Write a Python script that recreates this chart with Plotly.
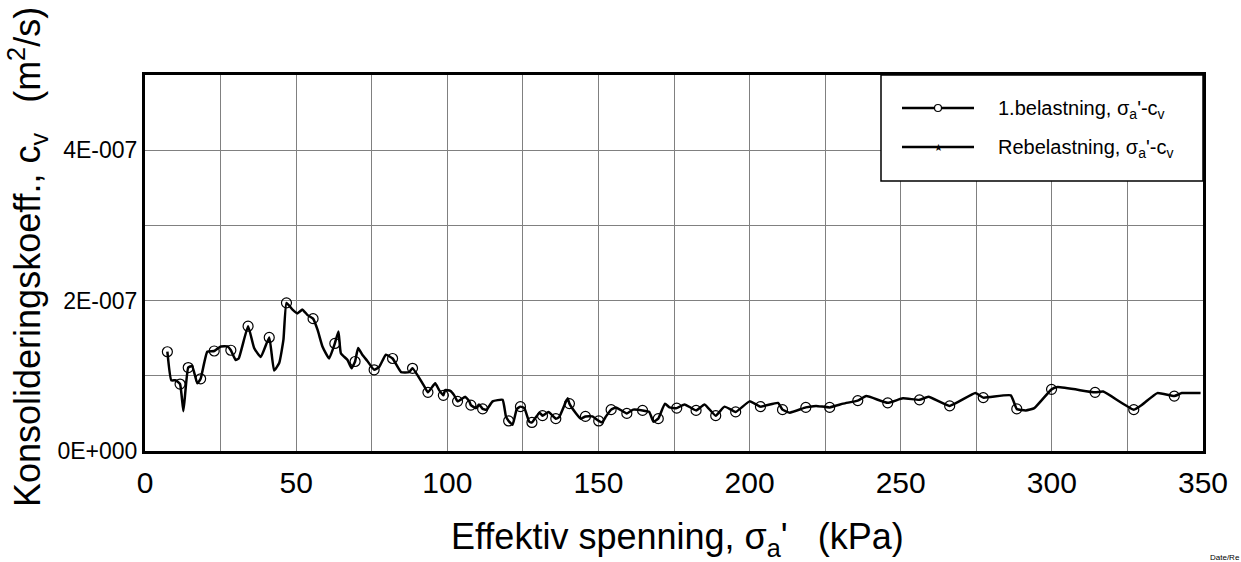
import numpy as np
import plotly.graph_objects as go

# Effective stress (kPa), consolidation coefficient (units of 1E-7 m2/s), marker flag
stress = [7.4, 8.7, 10.2, 11.6, 12.7, 14.3, 15.6, 17.3, 18.4, 20.6, 22.9, 25.1, 27.3, 28.4, 30.0, 31.0,
          34.1, 36.1, 38.3, 41.1, 42.7, 44.4, 45.8, 46.8, 48.8, 50.4, 52.1, 53.7, 55.6, 57.1, 58.7,
          60.9, 62.8, 64.0, 64.8, 67.0, 68.3, 69.5, 70.5, 71.9, 73.5, 75.8, 77.5, 79.7, 81.9, 84.7,
          87.4, 88.5, 92.4, 93.6, 96.0, 97.3, 98.7, 99.3, 101.0, 102.3, 103.4, 106.0, 107.3, 107.8,
          109.5, 110.5, 111.7, 113.0, 115.0, 118.3, 119.4, 120.3, 121.6, 123.0, 124.2, 125.5, 127.1,
          128.0, 130.5, 131.5, 133.5, 135.9, 137.0, 139.8, 140.4, 142.6, 144.2, 145.7, 148.0, 150.1,
          151.2, 152.5, 154.2, 155.8, 159.4, 161.5, 164.6, 166.8, 168.2, 169.8, 172.0, 173.5, 175.9,
          178.5, 182.3, 185.1, 188.8, 191.7, 195.4, 200.0, 203.6, 209.4, 210.9, 213.3, 218.6, 222.0,
          226.5, 231.0, 235.8, 238.6, 245.7, 250.7, 256.2, 259.2, 266.2, 274.7, 277.3, 286.4, 288.4,
          291.4, 294.2, 299.9, 301.9, 314.3, 317.0, 327.1, 330.0, 334.9, 340.5, 343.0, 349.2]
cv_e7 = [1.32, 0.94, 0.94, 0.89, 0.53, 1.11, 1.13, 0.90, 0.96, 1.32, 1.33, 1.39, 1.39, 1.34, 1.21, 1.23,
         1.66, 1.37, 1.25, 1.51, 1.07, 1.17, 1.48, 1.97, 1.88, 1.83, 1.88, 1.81, 1.76, 1.61, 1.39,
         1.23, 1.43, 1.59, 1.30, 1.21, 1.10, 1.19, 1.37, 1.28, 1.20, 1.08, 1.12, 1.28, 1.23, 1.05,
         1.05, 1.10, 0.86, 0.78, 0.90, 0.81, 0.74, 0.81, 0.80, 0.74, 0.66, 0.72, 0.66, 0.61,
         0.57, 0.62, 0.56, 0.55, 0.66, 0.68, 0.46, 0.40, 0.35, 0.56, 0.59, 0.57, 0.39,
         0.38, 0.51, 0.47, 0.52, 0.43, 0.45, 0.70, 0.63, 0.50, 0.43, 0.46, 0.46, 0.40,
         0.38, 0.46, 0.55, 0.58, 0.50, 0.55, 0.54, 0.52, 0.39, 0.43, 0.63, 0.58, 0.57,
         0.62, 0.54, 0.62, 0.47, 0.59, 0.52, 0.66, 0.59, 0.64, 0.55, 0.51, 0.58, 0.60,
         0.58, 0.63, 0.67, 0.73, 0.64, 0.70, 0.68, 0.72, 0.60, 0.77, 0.71, 0.74, 0.56,
         0.54, 0.57, 0.82, 0.85, 0.78, 0.79, 0.55, 0.62, 0.77, 0.73, 0.77, 0.77]
marked = [1, 0, 0, 1, 0, 1, 0, 0, 1, 0, 1, 0, 0, 1, 0, 0,
          1, 0, 0, 1, 0, 0, 0, 1, 0, 0, 0, 0, 1, 0, 0,
          0, 1, 0, 0, 0, 0, 1, 0, 0, 0, 1, 0, 0, 1, 0,
          0, 1, 0, 1, 0, 0, 1, 0, 0, 0, 1, 0, 0, 1,
          0, 0, 1, 0, 0, 0, 0, 1, 0, 0, 1, 0, 0,
          1, 0, 1, 0, 1, 0, 0, 1, 0, 0, 1, 0, 1,
          0, 0, 1, 0, 1, 0, 1, 0, 0, 1, 0, 0, 1,
          0, 1, 0, 1, 0, 1, 0, 1, 0, 1, 0, 1, 0,
          1, 0, 1, 0, 1, 0, 1, 0, 1, 0, 1, 0, 1,
          0, 0, 1, 0, 1, 0, 1, 0, 0, 1, 0, 0]

x_ticks = [0, 50, 100, 150, 200, 250, 300, 350]
y_ticks = [0, 2e-7, 4e-7]
y_ticktext = ["0E+000", "2E-007", "4E-007"]

legend_labels = ["1.belastning, σ<sub>a</sub>'-c<sub>v</sub>",
                 "Rebelastning, σ<sub>a</sub>'-c<sub>v</sub>"]

x = np.array(stress)
y = np.array(cv_e7) * 1e-7
m = np.array(marked) == 1

FONT = "Arial, Liberation Sans, sans-serif"
GRID = "#808080"

fig = go.Figure()
fig.add_trace(go.Scatter(x=x, y=y, mode="lines", line=dict(color="black", width=2.5, shape="spline", smoothing=0.4),
                         showlegend=False, hoverinfo="skip"))
fig.add_trace(go.Scatter(x=x[m], y=y[m], mode="markers",
                         marker=dict(symbol="circle-open", size=10, color="black", line=dict(width=1.2)),
                         showlegend=False, name="1.belastning"))

W, H = 1241, 562
L, R, T, B = 145, 38, 75, 111
pw, ph = W - L - R, H - T - B

def px(xp):
    return (xp - L) / pw

def py(yp):
    return (H - B - yp) / ph

shapes = []
annotations = []
# legend box
shapes.append(dict(type="rect", xref="paper", yref="paper", x0=px(881), x1=1.0, y0=py(181), y1=1.0,
                   line=dict(color="black", width=1.5), fillcolor="white", layer="above"))
for i, yl in enumerate([108, 147]):
    shapes.append(dict(type="line", xref="paper", yref="paper", x0=px(902), x1=px(974), y0=py(yl), y1=py(yl),
                       line=dict(color="black", width=2.5), layer="above"))
    annotations.append(dict(text=legend_labels[i], xref="paper", yref="paper", x=px(996), y=py(yl + 1),
                            xanchor="left", yanchor="middle", showarrow=False,
                            font=dict(family=FONT, size=20, color="black")))
shapes.append(dict(type="circle", xref="paper", yref="paper", xsizemode="pixel", ysizemode="pixel",
                   xanchor=px(938), yanchor=py(108), x0=-3.5, x1=3.5, y0=-3.5, y1=3.5,
                   line=dict(color="black", width=1.2), fillcolor="white", layer="above"))
annotations.append(dict(text="★", xref="paper", yref="paper", x=px(938), y=py(147), xanchor="center",
                        yanchor="middle", showarrow=False, font=dict(family="DejaVu Sans", size=10, color="black")))

# axis titles
annotations.append(dict(text="Konsolideringskoeff., c<sub>v</sub>\u00a0\u00a0\u00a0(m<sup>2</sup>/s)",
                        xref="paper", yref="paper", x=px(27), y=py(257), xanchor="center", yanchor="middle",
                        textangle=-90, showarrow=False, font=dict(family=FONT, size=36, color="black")))
annotations.append(dict(text="Effektiv spenning, σ<sub>a</sub>'\u00a0\u00a0\u00a0(kPa)",
                        xref="paper", yref="paper", x=px(677), y=py(539), xanchor="center", yanchor="middle",
                        showarrow=False, font=dict(family=FONT, size=36, color="black")))
annotations.append(dict(text="Date/Re", xref="paper", yref="paper", x=px(1208), y=py(557), xanchor="left",
                        yanchor="middle", showarrow=False, font=dict(family=FONT, size=8, color="black")))

fig.update_layout(
    width=W, height=H,
    margin=dict(l=L, r=R, t=T, b=B, pad=0),
    paper_bgcolor="white", plot_bgcolor="white",
    shapes=shapes, annotations=annotations,
    xaxis=dict(range=[0, 350], tickvals=x_ticks, ticktext=[str(v) for v in x_ticks],
               showgrid=True, gridcolor=GRID, gridwidth=1, zeroline=False,
               showline=True, linecolor="black", linewidth=2.5, mirror=True,
               ticks="", ticklabelstandoff=3, tickfont=dict(family=FONT, size=30, color="black"),
               minor=dict(dtick=25, tick0=0, showgrid=True, gridcolor=GRID, gridwidth=1)),
    yaxis=dict(range=[0, 5e-7], tickvals=y_ticks, ticktext=y_ticktext,
               showgrid=True, gridcolor=GRID, gridwidth=1, zeroline=False,
               showline=True, linecolor="black", linewidth=3, mirror=True,
               ticks="", tickfont=dict(family=FONT, size=23, color="black"),
               minor=dict(dtick=1e-7, tick0=0, showgrid=True, gridcolor=GRID, gridwidth=1)),
    showlegend=False,
)

fig.write_html("out.html")
